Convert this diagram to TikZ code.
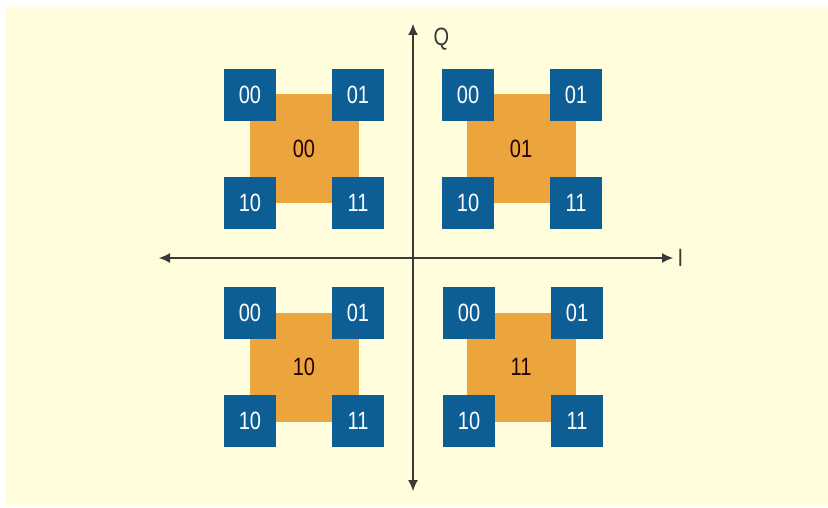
\documentclass[tikz,border=0pt]{standalone}
\usepackage{fontspec}
\setmainfont{Liberation Sans}[FakeStretch=0.8]
\usepackage{tikz}
\usetikzlibrary{arrows.meta}
\definecolor{cream}{HTML}{FFFDDC}
\definecolor{symblue}{HTML}{0E5E96}
\definecolor{symorange}{HTML}{ECA53C}
\definecolor{axisgray}{HTML}{3A3A36}

\begin{document}
\begin{tikzpicture}[x=1pt, y=-1pt,
        symbol/.style={fill=symorange, minimum size=109pt, inner sep=0pt, text=black!85!red, font=\fontsize{25}{25}\selectfont},
        point/.style={fill=symblue, minimum size=52pt, inner sep=0pt, text=white, font=\fontsize{25}{25}\selectfont},
        axis/.style={draw=axisgray, line width=1.1pt, -{Latex[length=11pt, width=10pt]}}]
            \useasboundingbox (0,0) rectangle (828,508);
            \fill [white] (0,0) rectangle (828,508);
            \fill [cream] (5,7) rectangle (828,505);
            % axes
            \coordinate (origin) at (413,258);
            \coordinate (q-end) at (413,24);
            \coordinate (q-neg) at (413,491);
            \coordinate (i-end) at (673,258);
            \coordinate (i-neg) at (159,258);
            \draw [axis] (origin) -- (q-end);
            \draw [axis] (origin) -- (q-neg);
            \draw [axis] (origin) -- (i-end);
            \draw [axis] (origin) -- (i-neg);
            \node [anchor = west, text=axisgray, font=\fontsize{25}{25}\selectfont] (q-label) at (430,39) {Q};
            \node [anchor = west, text=axisgray, font=\fontsize{25}{25}\selectfont] (i-label) at (674,258) {I};
            % inner symbols
            \node [symbol] (s00) at (304,149) {00};
            \node [symbol] (s01) at (521,149) {01};
            \node [symbol] (s10) at (304,367) {10};
            \node [symbol] (s11) at (521,367) {11};
            % outer points
            \node [point] (s00-00) at (250,95) {00};
            \node [point] (s00-01) at (358,95) {01};
            \node [point] (s00-10) at (250,203) {10};
            \node [point] (s00-11) at (358,203) {11};
            \node [point] (s01-00) at (468,95) {00};
            \node [point] (s01-01) at (576,95) {01};
            \node [point] (s01-10) at (468,203) {10};
            \node [point] (s01-11) at (576,203) {11};
            \node [point] (s10-00) at (250,313) {00};
            \node [point] (s10-01) at (358,313) {01};
            \node [point] (s10-10) at (250,421) {10};
            \node [point] (s10-11) at (358,421) {11};
            \node [point] (s11-00) at (469,313) {00};
            \node [point] (s11-01) at (577,313) {01};
            \node [point] (s11-10) at (469,421) {10};
            \node [point] (s11-11) at (577,421) {11};
        \end{tikzpicture}
\end{document}
